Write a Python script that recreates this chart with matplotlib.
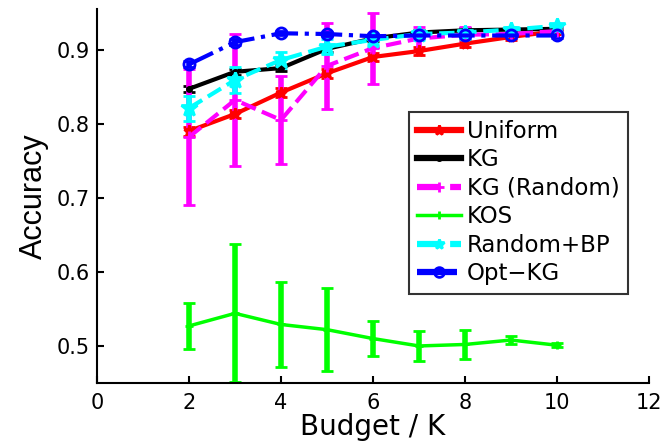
import matplotlib
matplotlib.use("Agg")
import matplotlib.pyplot as plt
from matplotlib.lines import Line2D

plt.rcParams['font.family'] = ['DejaVu Sans']

budget = [2, 3, 4, 5, 6, 7, 8, 9, 10]

uniform = [0.790, 0.813, 0.842, 0.868, 0.890, 0.898, 0.908, 0.917, 0.925]
uniform_err = [0.006, 0.006, 0.006, 0.006, 0.006, 0.005, 0.005, 0.004, 0.003]

kg = [0.847, 0.870, 0.875, 0.901, 0.915, 0.923, 0.926, 0.927, 0.928]
kg_err = [0.004, 0.004, 0.004, 0.004, 0.003, 0.003, 0.003, 0.002, 0.002]

kg_random = [0.782, 0.832, 0.805, 0.878, 0.902, 0.915, 0.920, 0.921, 0.925]
kg_random_err = [0.092, 0.089, 0.060, 0.058, 0.048, 0.016, 0.010, 0.006, 0.004]

kos = [0.527, 0.544, 0.529, 0.522, 0.510, 0.500, 0.502, 0.508, 0.501]
kos_err = [0.031, 0.093, 0.057, 0.056, 0.024, 0.020, 0.020, 0.006, 0.003]

random_bp = [0.821, 0.859, 0.886, 0.904, 0.913, 0.921, 0.923, 0.927, 0.932]
random_bp_err = [0.017, 0.018, 0.011, 0.010, 0.006, 0.005, 0.005, 0.004, 0.003]

opt_kg = [0.880, 0.910, 0.922, 0.921, 0.918, 0.919, 0.919, 0.919, 0.919]
opt_kg_err = [0.004, 0.004, 0.003, 0.003, 0.003, 0.003, 0.003, 0.003, 0.003]

labels = ['Uniform', 'KG', 'KG (Random)', 'KOS', 'Random+BP', 'Opt\u2212KG']

fig = plt.figure(figsize=(6.69, 4.41), dpi=100)
ax = fig.add_axes([0.145, 0.1315, 0.825, 0.8485])

series = [
    (uniform, uniform_err, '#ff0000', '-', '*', 8, 3.0),
    (kg, kg_err, '#000000', '-', '.', 6, 3.0),
    (kg_random, kg_random_err, '#ff00ff', '--', '+', 8, 3.0),
    (kos, kos_err, '#00ff00', '-', '+', 6, 2.5),
    (random_bp, random_bp_err, '#00ffff', '--', '*', 12, 3.0),
    (opt_kg, opt_kg_err, '#0000ff', '-.', 'o', 8, 3.0),
]

handles = []
for (vals, errs, col, ls, mk, ms, lw), lab in zip(series, labels):
    ax.errorbar(budget, vals, yerr=errs, color=col, ls=ls, lw=lw,
                marker=mk, ms=ms, mfc='none' if mk == 'o' else col, mec=col, mew=2,
                elinewidth=4, capsize=4, capthick=4)
    handles.append(Line2D([], [], color=col, ls=ls, lw=lw + 1.5 if lab != 'KOS' else lw,
                          marker=mk, ms=min(ms, 7), mfc='none' if mk == 'o' else col,
                          mec=col, mew=2, label=lab))

ax.set_xlim(0, 12)
ax.set_ylim(0.45, 0.955)
ax.set_xticks([0, 2, 4, 6, 8, 10, 12])
ax.set_yticks([0.5, 0.6, 0.7, 0.8, 0.9])
ax.tick_params(direction='in', labelsize=15, length=5, width=1.5)
ax.tick_params(axis='x', pad=7)
ax.tick_params(axis='y', pad=5)
ax.spines['top'].set_visible(False)
ax.spines['right'].set_visible(False)
ax.spines['left'].set_linewidth(1.5)
ax.spines['bottom'].set_linewidth(1.5)
ax.set_xlabel('Budget / K', fontsize=20, labelpad=0)
ax.set_ylabel('Accuracy', fontsize=22, labelpad=6, family='Liberation Sans')

leg = ax.legend(handles=handles, loc='upper left', bbox_to_anchor=(0.565, 0.725),
                fontsize=16.5, frameon=True, fancybox=False, edgecolor='black',
                handlelength=1.9, handletextpad=0.28, labelspacing=0.24,
                borderpad=0.36, borderaxespad=0)
leg.get_frame().set_linewidth(1.5)

fig.savefig('out.png', dpi=100)
